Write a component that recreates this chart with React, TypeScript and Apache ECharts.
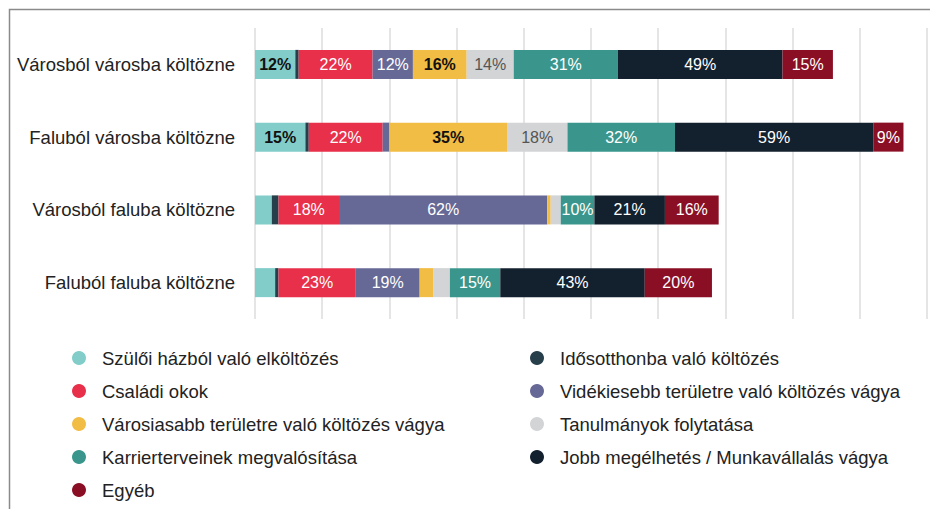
import React, { useEffect, useRef } from "react";
import * as echarts from "echarts";

const categories = [
  "Városból városba költözne",
  "Faluból városba költözne",
  "Városból faluba költözne",
  "Faluból faluba költözne",
];

const seriesNames = [
  "Szülői házból való elköltözés",
  "Idősotthonba való költözés",
  "Családi okok",
  "Vidékiesebb területre való költözés vágya",
  "Városiasabb területre való költözés vágya",
  "Tanulmányok folytatása",
  "Karrierterveinek megvalósítása",
  "Jobb megélhetés / Munkavállalás vágya",
  "Egyéb",
];

const szuloi = [12, 15, 5, 6];
const idosotthon = [1, 1, 2, 1];
const csaladi = [22, 22, 18, 23];
const videkiesebb = [12, 2, 62, 19];
const varosiasabb = [16, 35, 1, 4];
const tanulmanyok = [14, 18, 3, 5];
const karrier = [31, 32, 10, 15];
const megelhetes = [49, 59, 21, 43];
const egyeb = [15, 9, 16, 20];

const seriesValues = [szuloi, idosotthon, csaladi, videkiesebb, varosiasabb, tanulmanyok, karrier, megelhetes, egyeb];

const colors = ["#82cdc9", "#263f4a", "#e8304a", "#666896", "#f2bd44", "#d3d4d6", "#3a968c", "#13212f", "#8a0f25"];
const labelColors = ["#111111", "#ffffff", "#ffffff", "#ffffff", "#111111", "#555555", "#ffffff", "#ffffff", "#ffffff"];
const labelWeights = ["bold", "normal", "normal", "normal", "bold", "normal", "normal", "normal", "normal"];

const FONT = "'Liberation Sans', Arial, sans-serif";

export default function App() {
  const ref = useRef<HTMLDivElement>(null);
  useEffect(() => {
    if (!ref.current) return;
    const chart = echarts.init(ref.current, undefined, { renderer: "svg" });
    const series = seriesNames.map((name, i) => ({
      name,
      type: "bar",
      stack: "total",
      barWidth: 29,
      data: seriesValues[i],
      itemStyle: { color: colors[i] },
      label: {
        show: true,
        position: "inside",
        color: labelColors[i],
        fontWeight: labelWeights[i],
        fontSize: 16,
        fontFamily: FONT,
        formatter: (p: any) => (p.value >= 8 ? p.value + "%" : ""),
      },
      emphasis: { disabled: true },
    }));
    const legendCommon = {
      orient: "vertical",
      top: 348,
      padding: 0,
      icon: "circle",
      itemWidth: 14,
      itemHeight: 14,
      itemGap: 13,
      selectedMode: false,
      textStyle: {
        fontSize: 18.5,
        lineHeight: 20,
        color: "#222222",
        fontFamily: FONT,
        padding: [0, 0, 0, 11],
      },
    };
    chart.setOption({
      animation: false,
      backgroundColor: "#ffffff",
      textStyle: { fontFamily: FONT },
      grid: { left: 255, right: 3, top: 28, bottom: 190, containLabel: false },
      xAxis: {
        type: "value",
        min: 0,
        max: 200,
        interval: 20,
        axisLabel: { show: false },
        axisLine: { show: false },
        axisTick: { show: false },
        splitLine: { show: true, lineStyle: { color: "#dcdcdc", width: 1.5 } },
      },
      yAxis: {
        type: "category",
        inverse: true,
        data: categories,
        axisLine: { show: false },
        axisTick: { show: false },
        axisLabel: { fontSize: 18.5, color: "#222222", margin: 20, fontFamily: FONT },
      },
      legend: [
        { ...legendCommon, left: 72, data: [seriesNames[0], seriesNames[2], seriesNames[4], seriesNames[6], seriesNames[8]] },
        { ...legendCommon, left: 530, data: [seriesNames[1], seriesNames[3], seriesNames[5], seriesNames[7]] },
      ],
      graphic: [
        {
          type: "rect",
          shape: { x: 9.5, y: 9.5, width: 1000, height: 600 },
          style: { fill: "none", stroke: "#8a8a8a", lineWidth: 1.5 },
          silent: true,
        },
      ],
      series,
    });
    return () => chart.dispose();
  }, []);
  return <div ref={ref} style={{ position: "fixed", left: 0, top: 0, width: 930, height: 509 }} />;
}
